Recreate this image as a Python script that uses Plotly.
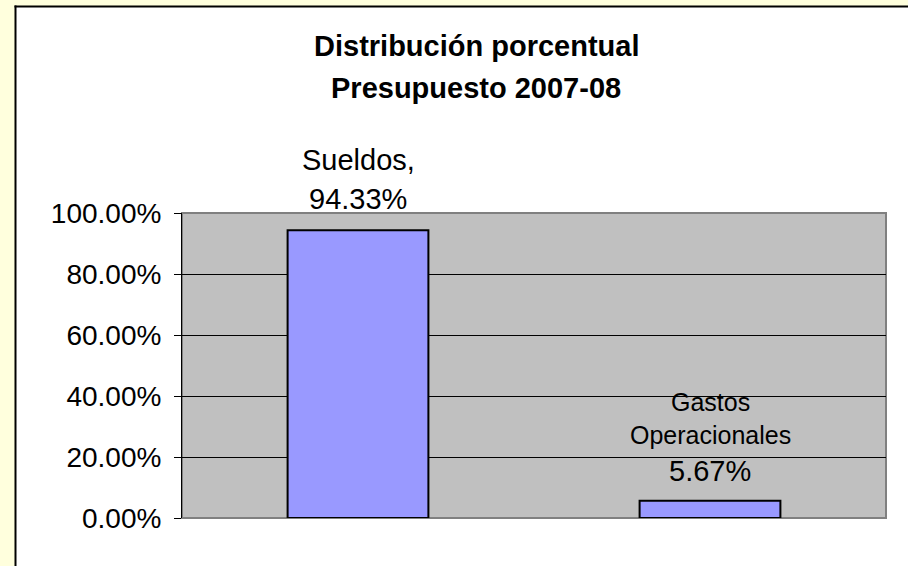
import plotly.graph_objects as go

# ---- data ----
categories = ["Sueldos", "Gastos Operacionales"]
values = [0.9433, 0.0567]
label_lines = [["Sueldos,"], ["Gastos", "Operacionales"]]
title_lines = ["Distribución porcentual", "Presupuesto 2007-08"]
tick_vals = [0, 0.2, 0.4, 0.6, 0.8, 1.0]

# ---- layout geometry (pixels) ----
W, H = 908, 566
L, R, T, B = 182, 22, 213, 48
PW, PH = W - L - R, H - T - B
FONT = "Liberation Sans, Arial, sans-serif"


def px_x(px):
    return (px - L) / PW


def px_y(py):
    return (H - B - py) / PH


fig = go.Figure()
fig.add_trace(go.Bar(
    x=categories, y=values,
    marker=dict(color="#9999FF", line=dict(color="#000000", width=2)),
    width=0.4, hoverinfo="skip",
))

shapes = [
    # yellow page strips
    dict(type="rect", xref="paper", yref="paper", x0=px_x(0), x1=px_x(15), y0=px_y(H), y1=px_y(0),
         fillcolor="#FFFFDD", line=dict(width=0), layer="below"),
    dict(type="rect", xref="paper", yref="paper", x0=px_x(0), x1=px_x(W), y0=px_y(6), y1=px_y(0),
         fillcolor="#FFFFDD", line=dict(width=0), layer="below"),
    # chart area border
    dict(type="line", xref="paper", yref="paper", x0=px_x(15.5), x1=px_x(15.5), y0=px_y(H + 5), y1=px_y(5.5),
         line=dict(color="#000000", width=2), layer="below"),
    dict(type="line", xref="paper", yref="paper", x0=px_x(14.5), x1=px_x(W + 5), y0=px_y(6.5), y1=px_y(6.5),
         line=dict(color="#000000", width=2), layer="below"),
    # plot area border
    dict(type="rect", xref="paper", yref="paper", x0=0, x1=1, y0=0, y1=1,
         line=dict(color="#808080", width=2), fillcolor="rgba(0,0,0,0)", layer="below"),
]

annotations = []
# title lines
for txt, py in zip(title_lines, [46, 88]):
    annotations.append(dict(text="<b>" + txt + "</b>", xref="paper", yref="paper",
                            x=px_x(476), y=px_y(py), xanchor="center", yanchor="middle",
                            showarrow=False, font=dict(family=FONT, size=29, color="#000000")))

# data labels
name_shifts = [[70], [99, 66]]
name_sizes = [29, 25]
value_shifts = [31, 30]
for cat, val, lines, shifts, size, vshift in zip(categories, values, label_lines, name_shifts, name_sizes, value_shifts):
    for line, sh in zip(lines, shifts):
        annotations.append(dict(text=line, x=cat, y=val, xref="x", yref="y", yanchor="middle",
                                yshift=sh, showarrow=False,
                                font=dict(family=FONT, size=size, color="#000000")))
    annotations.append(dict(text=f"{val * 100:.2f}%", x=cat, y=val, xref="x", yref="y", yanchor="middle",
                            yshift=vshift, showarrow=False,
                            font=dict(family=FONT, size=29, color="#000000")))

fig.update_layout(
    width=W, height=H,
    margin=dict(l=L, r=R, t=T, b=B, pad=0),
    paper_bgcolor="#FFFFFF",
    plot_bgcolor="#C0C0C0",
    showlegend=False,
    shapes=shapes,
    annotations=annotations,
    xaxis=dict(showticklabels=False, ticks="", showgrid=False, zeroline=False, showline=False,
               fixedrange=True),
    yaxis=dict(range=[0, 1], tickvals=tick_vals, tickformat=".2%",
               showgrid=True, gridcolor="#000000", gridwidth=1,
               zeroline=False, showline=True, linecolor="#000000", linewidth=1,
               ticks="outside", ticklen=7, tickcolor="#000000", tickwidth=1,
               ticklabelstandoff=7,
               tickfont=dict(family=FONT, size=28, color="#000000"), fixedrange=True),
    bargap=0.6,
)

fig.write_html("out.html", config={"displayModeBar": False},
               post_script="document.body.style.margin='0';document.body.style.overflow='hidden';")
